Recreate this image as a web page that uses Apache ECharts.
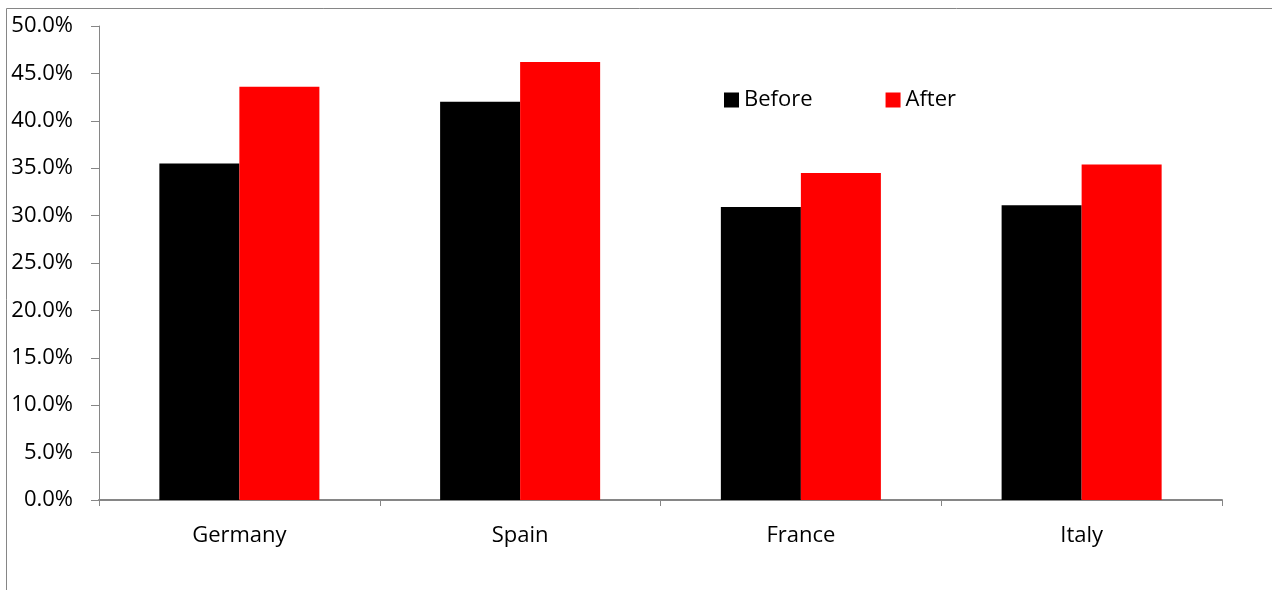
<!DOCTYPE html>
<html>
<head>
<meta charset="utf-8">
<script src="https://cdn.jsdelivr.net/npm/echarts@6/dist/echarts.min.js"></script>
<style>
  html, body { margin: 0; padding: 0; background: #ffffff; }
  #chart { width: 1272px; height: 590px; }
</style>
</head>
<body>
<div id="chart"></div>
<script>
// Share by country, before and after
const categories = ['Germany', 'Spain', 'France', 'Italy'];
const beforeValues = [35.5, 42.0, 30.9, 31.1];
const afterValues = [43.6, 46.2, 34.5, 35.4];
const seriesNames = ['Before', 'After'];
const yTicks = { min: 0, max: 50, step: 5 };

const FONT = '"Open Sans", sans-serif';
const AXIS_GRAY = '#868686';

const chart = echarts.init(document.getElementById('chart'), null, { renderer: 'canvas' });

chart.setOption({
  animation: false,
  backgroundColor: '#ffffff',
  textStyle: { fontFamily: FONT },
  graphic: [
    {
      // chart-area frame, running off the right and bottom edges
      type: 'rect',
      shape: { x: 6.5, y: 8.5, width: 1400, height: 700 },
      style: { fill: null, stroke: AXIS_GRAY, lineWidth: 1 },
      silent: true
    }
  ],
  grid: { left: 99, right: 50, top: 26, bottom: 90, containLabel: false },
  legend: {
    data: seriesNames,
    left: 724,
    top: 89,
    padding: 0,
    icon: 'rect',
    itemWidth: 15,
    itemHeight: 15,
    itemGap: 73,
    textStyle: { fontFamily: FONT, fontSize: 22, color: '#000000' }
  },
  xAxis: {
    type: 'category',
    data: categories,
    axisLine: { lineStyle: { color: AXIS_GRAY, width: 2 } },
    axisTick: { show: true, length: 6, lineStyle: { color: AXIS_GRAY, width: 1 } },
    axisLabel: { fontFamily: FONT, fontSize: 22, color: '#000000', margin: 25 },
    splitLine: { show: false }
  },
  yAxis: {
    type: 'value',
    min: yTicks.min,
    max: yTicks.max,
    interval: yTicks.step,
    axisLine: { show: true, lineStyle: { color: AXIS_GRAY, width: 1 } },
    axisTick: { show: true, length: 8, lineStyle: { color: AXIS_GRAY } },
    axisLabel: {
      fontFamily: FONT, fontSize: 22, color: '#000000', margin: 26,
      formatter: v => v.toFixed(1) + '%'
    },
    splitLine: { show: false }
  },
  series: [
    {
      name: seriesNames[0],
      type: 'bar',
      data: beforeValues,
      barGap: '0%',
      barCategoryGap: '43%',
      itemStyle: { color: '#000000' }
    },
    {
      name: seriesNames[1],
      type: 'bar',
      data: afterValues,
      barGap: '0%',
      barCategoryGap: '43%',
      itemStyle: { color: '#ff0000' }
    }
  ]
});
</script>
</body>
</html>
